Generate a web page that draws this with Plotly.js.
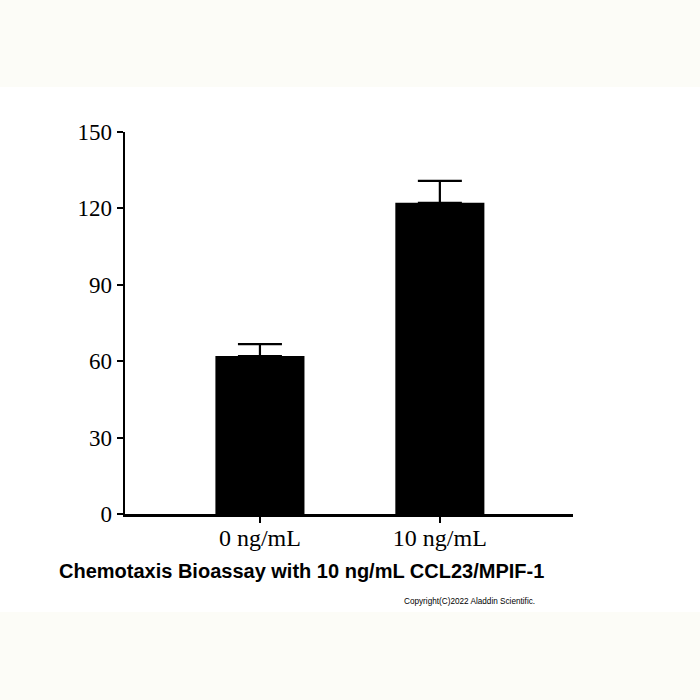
<!DOCTYPE html>
<html>
<head>
<meta charset="utf-8">
<script src="https://cdn.plot.ly/plotly-3.0.1.min.js"></script>
<style>
html,body{margin:0;padding:0;background:#fcfcf7;}
#band{position:absolute;left:0;top:87px;width:700px;height:525px;background:#ffffff;}
#chart{position:absolute;left:0;top:0;width:700px;height:700px;}
</style>
</head>
<body>
<div id="band"></div>
<div id="chart"></div>
<script>
var categories = ["0 ng/mL", "10 ng/mL"];
var values = [62, 122.2];
var errors = [4.7, 8.6];
var yTicks = [0, 30, 60, 90, 120, 150];
var chartTitle = "Chemotaxis Bioassay with 10 ng/mL CCL23/MPIF-1";
var copyright = "Copyright(C)2022 Aladdin Scientific.";

var trace = {
  type: "bar",
  x: categories,
  y: values,
  width: 0.495,
  marker: {color: "#000000", line: {width: 0}},
  error_y: {type: "data", array: errors, arrayminus: [0, 0], symmetric: false,
            color: "#000000", thickness: 2.2, width: 22}
};

var layout = {
  width: 700, height: 700,
  paper_bgcolor: "rgba(0,0,0,0)",
  plot_bgcolor: "rgba(0,0,0,0)",
  margin: {l: 125, r: 127, t: 132, b: 186},
  showlegend: false,
  bargap: 0.5,
  xaxis: {
    type: "category",
    range: [-0.75, 1.74],
    showline: true, linecolor: "#000", linewidth: 2.5,
    ticks: "outside", ticklen: 6, tickwidth: 2, tickcolor: "#000",
    ticklabelstandoff: -5,
    showgrid: false, zeroline: false,
    tickfont: {family: "Liberation Serif, Times New Roman, serif", size: 24, color: "#000"}
  },
  yaxis: {
    range: [0, 150],
    tickvals: yTicks,
    ticktext: yTicks.map(String),
    showline: true, linecolor: "#000", linewidth: 2.5,
    ticks: "outside", ticklen: 6, tickwidth: 2, tickcolor: "#000",
    showgrid: false, zeroline: false,
    tickfont: {family: "Liberation Serif, Times New Roman, serif", size: 23, color: "#000"}
  },
  annotations: [
    {text: "<b>" + chartTitle + "</b>", xref: "paper", yref: "paper",
     x: (301.5 - 125) / 448, y: (700 - 186 - 571) / 382, xanchor: "center", yanchor: "middle",
     showarrow: false, font: {family: "Liberation Sans, Arial, sans-serif", size: 20, color: "#000"}},
    {text: copyright, xref: "paper", yref: "paper",
     x: (537 - 125) / 448, y: (700 - 186 - 601) / 382, xanchor: "right", yanchor: "middle",
     showarrow: false, font: {family: "Liberation Sans, Arial, sans-serif", size: 8.2, color: "#000"}}
  ]
};

Plotly.newPlot("chart", [trace], layout, {displayModeBar: false, staticPlot: true});
</script>
</body>
</html>
